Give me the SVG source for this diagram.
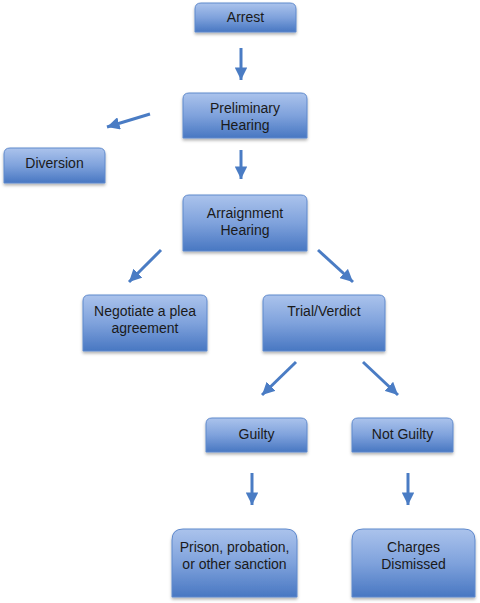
<svg xmlns="http://www.w3.org/2000/svg" width="480" height="603" viewBox="0 0 480 603">
<defs>
<linearGradient id="g" x1="0" y1="0" x2="0" y2="1">
<stop offset="0" stop-color="#abc3ec"/>
<stop offset="0.5" stop-color="#7fa2dc"/>
<stop offset="1" stop-color="#4877c2"/>
</linearGradient>
<filter id="sh" x="-10%" y="-10%" width="120%" height="130%">
<feDropShadow dx="0" dy="2" stdDeviation="1.5" flood-color="#000" flood-opacity="0.3"/>
</filter>
<marker id="ah" viewBox="0 0 10 10" refX="10" refY="5" markerWidth="4.2" markerHeight="4.2" markerUnits="strokeWidth" orient="auto">
<path d="M0,0 L10,5 L0,10 Z" fill="#4a7cc4"/>
</marker>
</defs>
<style>
.box{fill:url(#g);stroke:#5f89cc;stroke-width:1;filter:url(#sh)}
.t{font-family:"Liberation Sans",Arial,sans-serif;font-size:14px;fill:#1a1a1a;text-anchor:middle}
.c{stroke:#4a7cc4;stroke-width:3;fill:none;marker-end:url(#ah)}
</style>
<rect width="480" height="603" fill="#fff"/>
<g id="connectors">
<line class="c" x1="241" y1="48" x2="241" y2="80"/>
<line class="c" x1="150" y1="114" x2="107" y2="127"/>
<line class="c" x1="241" y1="150" x2="241" y2="179"/>
<line class="c" x1="161" y1="250" x2="129" y2="282"/>
<line class="c" x1="318" y1="250" x2="353" y2="282"/>
<line class="c" x1="296" y1="362" x2="262" y2="395"/>
<line class="c" x1="363" y1="362" x2="398" y2="395"/>
<line class="c" x1="252" y1="473" x2="252" y2="505"/>
<line class="c" x1="408" y1="473" x2="408" y2="505"/>
</g>
<g id="arrest">
<path class="box" d="M195,32 L195,9 Q195,3 201,3 L290,3 Q296,3 296,9 L296,32 Z"/>
<text class="t" x="245.5" y="22">Arrest</text>
</g>
<g id="preliminary">
<path class="box" d="M183,138 L183,99 Q183,93 189,93 L301,93 Q307,93 307,99 L307,138 Z"/>
<text class="t" x="245" y="113">Preliminary</text>
<text class="t" x="245" y="130">Hearing</text>
</g>
<g id="diversion">
<path class="box" d="M4,183 L4,154 Q4,148 10,148 L99,148 Q105,148 105,154 L105,183 Z"/>
<text class="t" x="54.5" y="168">Diversion</text>
</g>
<g id="arraignment">
<path class="box" d="M183,251 L183,201 Q183,195 189,195 L301,195 Q307,195 307,201 L307,251 Z"/>
<text class="t" x="245" y="218">Arraignment</text>
<text class="t" x="245" y="235">Hearing</text>
</g>
<g id="negotiate">
<path class="box" d="M83,351 L83,301 Q83,295 89,295 L201,295 Q207,295 207,301 L207,351 Z"/>
<text class="t" x="145" y="316">Negotiate a plea</text>
<text class="t" x="145" y="333">agreement</text>
</g>
<g id="trial">
<path class="box" d="M263,351 L263,301 Q263,295 269,295 L379,295 Q385,295 385,301 L385,351 Z"/>
<text class="t" x="324" y="316">Trial/Verdict</text>
</g>
<g id="guilty">
<path class="box" d="M206,452 L206,424 Q206,418 212,418 L301,418 Q307,418 307,424 L307,452 Z"/>
<text class="t" x="256.5" y="439">Guilty</text>
</g>
<g id="notguilty">
<path class="box" d="M352,452 L352,424 Q352,418 358,418 L447,418 Q453,418 453,424 L453,452 Z"/>
<text class="t" x="402.5" y="439">Not Guilty</text>
</g>
<g id="prison">
<path class="box" d="M172,597 L172,540 Q172,529 183,529 L286,529 Q297,529 297,540 L297,597 Z"/>
<text class="t" x="234.5" y="552">Prison, probation,</text>
<text class="t" x="234.5" y="569">or other sanction</text>
</g>
<g id="charges">
<path class="box" d="M352,597 L352,540 Q352,529 363,529 L464,529 Q475,529 475,540 L475,597 Z"/>
<text class="t" x="413.5" y="552">Charges</text>
<text class="t" x="413.5" y="569">Dismissed</text>
</g>
</svg>
